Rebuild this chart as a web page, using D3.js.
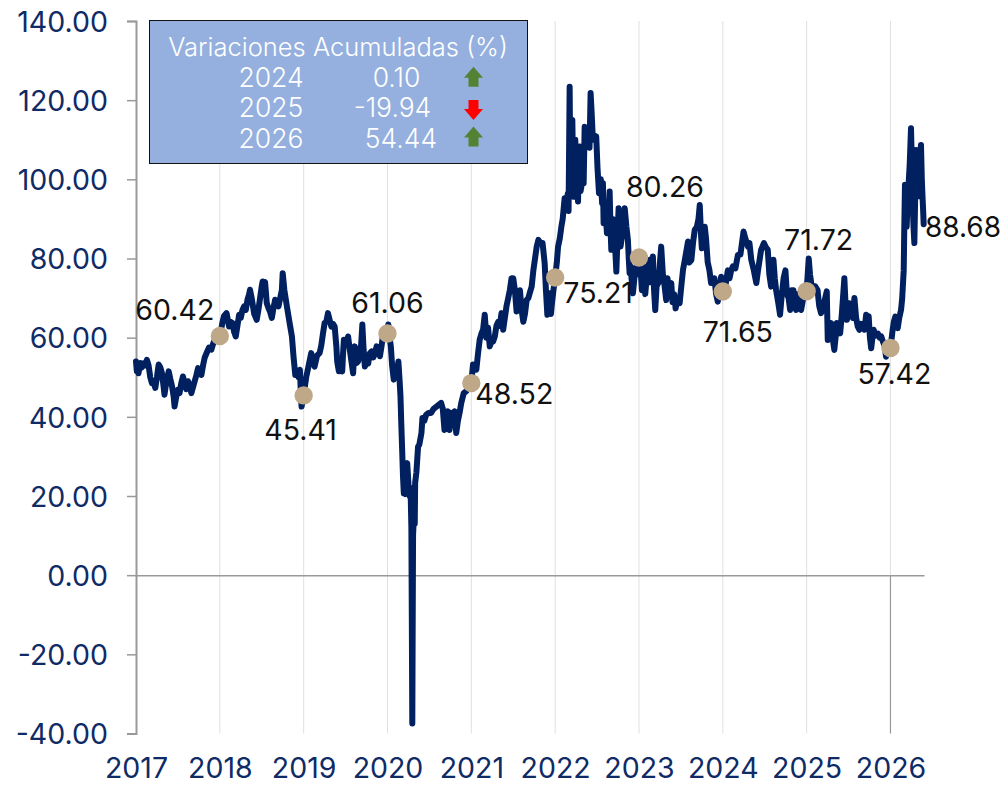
<!DOCTYPE html>
<html><head><meta charset="utf-8">
<script src="https://cdn.jsdelivr.net/npm/d3@7"></script>
<style>html,body{margin:0;background:#fff}svg{display:block}text{font-family:Inter,"Noto Sans",sans-serif;font-weight:400}</style>
</head><body><svg id="c" width="1005" height="785"></svg>
<script>
const yearTicks=[2017,2018,2019,2020,2021,2022,2023,2024,2025,2026];
const valueTicks=[-40,-20,0,20,40,60,80,100,120,140];
const t2017=[.00,.01,.02,.03,.05,.07,.09,.11,.13,.15,.17,.19,.21,.23,.25,.27,.29,.31,.33,.34,.36,.39,.41,.43,.45,.46,.48,.50,.52,.54,.56,.58,.60,.62,.64,.66,.68,.70,.72,.74,.76,.78,.80,.82,.85,.87,.90,.92,.95,.97];
const v2017=[54,51.5,52,51,53.6,52.5,53.5,53,54.4,53,50,48.5,49,47.3,50,53.2,52.5,51,47.5,45.6,48.5,51.5,49.5,47.7,45,42.6,45,46.8,46,48.5,50.2,48.5,47,49,48,46,47.5,49,50.5,52.3,52,50.6,53,55,56.5,57.5,57,58.5,60,59.5];
const t2018=[.00,.015,.03,.05,.08,.10,.11,.13,.15,.17,.19,.21,.23,.25,.27,.29,.31,.33,.35,.36,.38,.39,.41,.44,.46,.48,.50,.51,.53,.54,.56,.58,.60,.62,.64,.66,.68,.70,.72,.74,.75,.77,.80,.83,.86,.88,.90,.92,.94,.955,.965,.975,.99];
const v2018=[60.42,62,63.7,65.5,66.2,64,62.8,64,63.7,61.5,60.3,63,65.8,65,67,67.9,67,69.6,71,72.1,70,68.7,66,64.5,67,70,73,74.2,73.8,74,68.7,67.5,66.5,65,67.5,69.6,68.5,67.9,70,72,76.3,72,67.9,64,60.3,55,50.6,51,50,51.9,47,42.6,44];
const t2019=[.00,.03,.06,.09,.11,.13,.16,.19,.21,.23,.25,.27,.29,.31,.33,.35,.37,.39,.40,.42,.44,.46,.47,.48,.50,.53,.55,.57,.59,.60,.61,.63,.65,.67,.685,.70,.715,.73,.75,.77,.79,.81,.83,.85,.87,.89,.91,.93,.95,.98];
const v2019=[45.41,50,53,56.1,54,52.7,55.5,56.1,58,61,63.7,64,66.2,64.5,62.8,63.5,62.8,57.8,54,51.5,53,51.5,56,59.5,58,60.3,57,54,51,55,57.8,53.6,54,56.1,58,63.3,57,52.7,54,53.5,56.1,56.5,55,56,57.8,57,55.3,58,61.2,62];
const t2020=[.00,.01,.025,.04,.055,.075,.09,.11,.13,.145,.155,.165,.175,.185,.195,.205,.215,.225,.235,.245,.255,.265,.275,.285,.29,.296,.30,.305,.315,.325,.33,.345,.365,.38,.405,.417,.44,.46,.49,.52,.55,.58,.61,.64,.66,.68,.70,.72,.74,.76,.78,.80,.82,.84,.86,.88,.91,.94,.97];
const v2020=[61.06,63.3,60,57.8,53,49.4,52,50.5,54,49,45.2,38,31.7,25,20.7,21,20.5,27,28.3,25,21,19.9,22,12,-10,-37.5,-15,10,15,13,23.3,26,32.5,33,35.9,39.7,39,40.5,41,41,42,42.5,43,43.5,42,36.7,40,41.4,36.7,41,39,41.4,35.9,39,41,43.5,46,46.5,47.5];
const t2021=[.00,.02,.04,.06,.08,.10,.12,.14,.16,.18,.20,.22,.24,.26,.28,.30,.32,.34,.36,.38,.40,.42,.44,.46,.48,.50,.52,.54,.56,.58,.60,.62,.64,.66,.68,.70,.72,.74,.76,.78,.80,.82,.85,.875,.89,.907,.92,.935,.95,.962,.98];
const v2021=[48.52,53.2,53,51.9,56,59.5,61,62,65.8,60,62.5,57.8,59,59,60.3,63,64,63,66.2,62,65,68,70,72.1,75,75,72,66.6,69,72,67,64,66,69.5,70,71.5,72.9,77,80,83,84.7,84,83.9,78.8,72,65.8,69,71.2,66,68.7,72];
const t2022=[.00,.02,.035,.055,.074,.09,.113,.13,.153,.16,.173,.18,.185,.195,.205,.215,.225,.24,.253,.263,.273,.283,.293,.303,.313,.325,.34,.352,.372,.39,.41,.423,.435,.45,.47,.49,.505,.523,.545,.56,.57,.578,.60,.618,.635,.65,.66,.67,.69,.71,.72,.73,.745,.757,.77,.78,.80,.815,.83,.85,.868,.878,.888,.90,.915,.928,.95,.967,.985];
const v2022=[75.21,79,83,85,88,90,95.2,94,96.5,92,123.4,103,102.4,113,115,100,95.6,110,103,108,94.4,105,108.3,97,98.2,106,99,113.3,110.8,113,108,121.8,117,110,111,110.8,103,96.5,100,94,99,88.9,92,86.4,90,96.9,88,82.2,90,88,81,76.7,86,92.7,85,83,86,88,92.7,88,84.7,80,76.3,78,74,71.2,76,78,76];
const t2023=[.00,.02,.035,.047,.06,.075,.086,.10,.126,.14,.155,.166,.18,.194,.21,.235,.25,.265,.285,.30,.325,.34,.36,.385,.40,.42,.437,.46,.485,.505,.525,.55,.585,.60,.625,.645,.665,.69,.71,.725,.74,.75,.77,.785,.80,.82,.84,.86,.88,.90,.92,.94,.96,.98];
const v2023=[80.26,77,72,73.8,78,71,73.8,76,79.7,74,77,80.5,72,67,73,74,79,83,76,74,69.5,75,72,73.8,69,71,67.4,70,68.7,73,77.1,80,84.3,79,79.6,84,87.2,88,90,93.5,86,82.6,86,88,85,79,77.1,73.8,74,75,71,69.1,72,75.4];
const t2024=[.00,.03,.06,.08,.10,.12,.15,.18,.21,.247,.27,.30,.318,.34,.37,.40,.42,.457,.49,.51,.536,.555,.576,.59,.604,.62,.636,.66,.683,.70,.725,.747,.765,.785,.803,.82,.842,.858,.874,.89,.91,.934,.96,.98];
const v2024=[71.65,73,77,75,77,78,77.5,80.9,81,86.8,85,83,83.9,79.6,77,73.8,77,82.2,83.9,83,82.2,76,72.9,76,79.7,75,72,69,65.8,70,75,77,71,70,67,72,72,68,67,71,68,67,70,72];
const t2025=[.00,.025,.04,.06,.073,.10,.13,.15,.172,.20,.24,.252,.27,.292,.31,.33,.345,.36,.38,.40,.42,.45,.465,.48,.495,.51,.53,.55,.57,.59,.61,.63,.65,.67,.69,.71,.73,.74,.755,.77,.785,.80,.82,.85,.87,.89,.91,.93,.947,.97];
const v2025=[71.72,80,76,73,72.9,73,72,68,66.2,68,71.7,59.4,62,63.7,60,56.9,60,63.7,62,61.1,66,75,68,64.5,66,68.7,66,65,70,65,62.8,62,63.5,63,62,65.8,63,65.4,60,57.3,60,62,60.5,61,60,60.3,59,58,55.2,58];
const t2026=[.00,.015,.026,.04,.058,.07,.086,.105,.126,.14,.158,.165,.173,.183,.193,.205,.217,.23,.245,.255,.265,.275,.285,.295,.305,.318,.33,.345,.364,.374,.384,.39,.396];
const v2026=[57.42,60,62,64,65.3,64,62.4,65,67,70,77,88,98.6,90,88,95,99,104,112.9,104,94,88,83.9,96,107.4,100,95.7,104,108.7,100,94.8,92,88.68];
const offsetsByYear=[t2017,t2018,t2019,t2020,t2021,t2022,t2023,t2024,t2025,t2026];
const dates=offsetsByYear.flatMap((a,i)=>a.map(f=>yearTicks[i]+f));
const prices=[].concat(v2017,v2018,v2019,v2020,v2021,v2022,v2023,v2024,v2025,v2026);
const markerYears=[2018,2019,2020,2021,2022,2023,2024,2025,2026];
const markerValues=[60.42,45.41,61.06,48.52,75.21,80.26,71.65,71.72,57.42];
const boxTitle="Variaciones Acumuladas (%)";
const boxYears=["2024","2025","2026"];
const boxChanges=["0.10","-19.94","54.44"];
const endValue=88.68;

const svg=d3.select("#c");
const x=d3.scaleLinear().domain([2017,2026.4]).range([136,924]);
const y=d3.scaleLinear().domain([-40,140]).range([733.5,21]);
const navy="#002060",grey="#999999",light="#e0e0e0",axisText="#0f2b66";
const fs=28.5;

svg.append("g").selectAll("line").data(yearTicks.slice(1)).join("line")
 .attr("x1",d=>x(d)).attr("x2",d=>x(d)).attr("y1",y(140)).attr("y2",y(-40))
 .attr("stroke",light).attr("stroke-width",1);
svg.append("line").attr("x1",x(2026)).attr("x2",x(2026)).attr("y1",y(0)).attr("y2",y(-40))
 .attr("stroke",grey).attr("stroke-width",1.2);

const yAxis=d3.axisLeft(y).tickValues(valueTicks).tickFormat(d=>d.toFixed(2)).tickSize(9);
const gy=svg.append("g").attr("transform",`translate(${x(2017)},0)`).call(yAxis);
gy.selectAll("path,line").attr("stroke",grey).attr("stroke-width",1.5);
gy.select(".domain").attr("stroke-width",2);
gy.selectAll("text").attr("fill",axisText).attr("font-size",fs).attr("x",-28).attr("dy","0.36em").style("font-family","Inter").style("font-weight",400);

const xAxis=d3.axisBottom(x).tickValues(yearTicks).tickFormat(d3.format("d")).tickSize(0);
const gx=svg.append("g").attr("transform",`translate(0,${y(0)})`).call(xAxis);
gx.selectAll("path").attr("stroke",grey).attr("stroke-width",1.5);
gx.selectAll("text").attr("fill",axisText).attr("font-size",fs).attr("y",778-y(0)).attr("dy",0).style("font-family","Inter").style("font-weight",400);

const line=d3.line().x((d,i)=>x(dates[i])).y(d=>y(d));
svg.append("path").datum(prices).attr("d",line).attr("fill","none").attr("stroke",navy)
 .attr("stroke-width",6).attr("stroke-linejoin","round").attr("stroke-linecap","round");

svg.append("g").selectAll("circle").data(markerValues).join("circle")
 .attr("cx",(d,i)=>x(markerYears[i])).attr("cy",d=>y(d)).attr("r",9.2).attr("fill","#bfa888");

const labelOffsets=[[-45,-16],[-3,45],[0,-20],[43,21],[43,26],[26,-60],[15,50],[12,-41],[4,36]];
svg.append("g").selectAll("text").data(markerValues).join("text")
 .attr("x",(d,i)=>x(markerYears[i])+labelOffsets[i][0]).attr("y",(d,i)=>y(d)+labelOffsets[i][1])
 .attr("text-anchor","middle").attr("font-size",fs).attr("fill","#111")
 .text(d=>d.toFixed(2));
svg.append("text").attr("x",925).attr("y",y(endValue)+13).attr("font-size",fs-0.5).attr("fill","#111").text(endValue.toFixed(2));

const box=svg.append("g");
box.append("rect").attr("x",149.5).attr("y",20.5).attr("width",378).attr("height",143).attr("fill","#95b0de").attr("stroke","#111").attr("stroke-width",1);
box.append("text").attr("x",338).attr("y",56).attr("text-anchor","middle").attr("fill","#fff").attr("font-size",25.5).style("font-weight",300).text(boxTitle);
const rowY=[86.7,117,147.5];
const arrowY=[76.7,110,136.5];
boxYears.forEach((yr,i)=>{
 box.append("text").attr("x",271).attr("y",rowY[i]).attr("text-anchor","middle").attr("fill","#fff").attr("font-size",26.5).style("font-weight",300).text(yr);
 box.append("text").attr("x",[396.5,392.5,401][i]).attr("y",rowY[i]).attr("text-anchor","middle").attr("fill","#fff").attr("font-size",26.5).style("font-weight",300).text(boxChanges[i]);
 const up=parseFloat(boxChanges[i])>=0;
 const cy=arrowY[i];
 const s=up?1:-1;
 const a=d3.path();
 a.moveTo(473.5,cy-10*s);a.lineTo(483,cy+1*s);a.lineTo(478.5,cy+1*s);a.lineTo(478.5,cy+10*s);a.lineTo(468.5,cy+10*s);a.lineTo(468.5,cy+1*s);a.lineTo(464,cy+1*s);a.closePath();
 box.append("path").attr("d",a.toString()).attr("fill",up?"#548235":"#ff0000");
});
</script></body></html>
